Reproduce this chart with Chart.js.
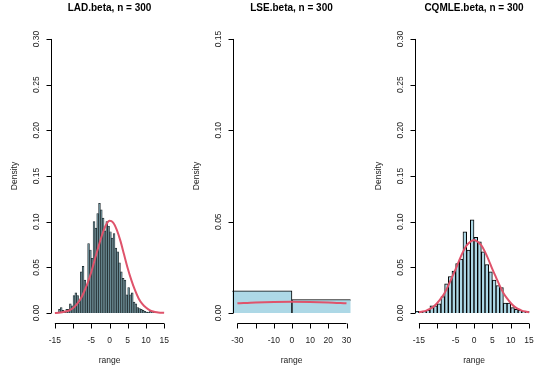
<!DOCTYPE html>
<html>
<head>
<meta charset="utf-8">
<script src="https://cdn.jsdelivr.net/npm/chart.js@4"></script>
<style>
  body { margin: 0; background: #fff; }
  #wrap { position: relative; width: 547px; height: 371px; overflow: hidden; }
  #wrap canvas { position: absolute; top: 0; }
</style>
</head>
<body>
<div id="wrap">
  <canvas id="lad" width="182" height="371" style="left:0px"></canvas>
  <canvas id="lse" width="182" height="371" style="left:182px"></canvas>
  <canvas id="cqmle" width="183" height="371" style="left:364px"></canvas>
</div>
<script>
// --- data ---
// LAD.beta histogram, bins of 0.5 starting at -14
const ladStart = -14, ladWidth = 0.5;
const ladDensity = [0.004, 0.006, 0.003, 0.002, 0.004, 0.004, 0.010, 0.008, 0.019, 0.022,
  0.019, 0.012, 0.045, 0.051, 0.036, 0.030, 0.076, 0.069, 0.060, 0.100,
  0.093, 0.109, 0.120, 0.113, 0.104, 0.090, 0.100, 0.095, 0.089, 0.082,
  0.087, 0.071, 0.067, 0.055, 0.045, 0.038, 0.036, 0.020, 0.028, 0.020,
  0.022, 0.012, 0.010, 0.006, 0.005, 0.004, 0.003, 0.002, 0.001, 0.001,
  0.002, 0.002, 0.001];
const ladCurveX = [-15, -14, -13, -12, -11, -10, -9, -8, -7, -6, -5, -4, -3, -2, -1, 0,
  1, 2, 3, 4, 5, 6, 7, 8, 9, 10, 11, 12, 13, 14, 15];
const ladCurveY = [0.0001, 0.0003, 0.0008, 0.0016, 0.003, 0.0055, 0.0095, 0.015, 0.023, 0.033,
  0.045, 0.059, 0.073, 0.086, 0.096, 0.101, 0.099, 0.091, 0.079, 0.064,
  0.049, 0.036, 0.025, 0.016, 0.010, 0.006, 0.0033, 0.0017, 0.0008, 0.0004, 0.0002];

// LSE.beta histogram, two bins of 50 starting at -50
const lseStart = -50, lseWidth = 50;
const lseDensity = [0.0122, 0.0074];
const lseCurveX = [-30, -20, -10, 0, 10, 20, 30];
const lseCurveY = [0.0053, 0.0058, 0.0061, 0.0062, 0.0061, 0.0058, 0.0053];

// CQMLE.beta histogram, bins of 1 starting at -16
const cqStart = -16, cqWidth = 1;
const cqDensity = [0.002, 0.001, 0.002, 0.003, 0.008, 0.008, 0.010, 0.018, 0.032, 0.040,
  0.046, 0.054, 0.059, 0.089, 0.069, 0.102, 0.083, 0.078, 0.067, 0.053,
  0.045, 0.036, 0.030, 0.028, 0.011, 0.011, 0.006, 0.004, 0.003, 0.002, 0.002];
const cqCurveX = ladCurveX;
const cqCurveY = [0.0009, 0.0016, 0.0027, 0.0045, 0.007, 0.011, 0.016, 0.022, 0.030, 0.039,
  0.048, 0.058, 0.067, 0.074, 0.078, 0.080, 0.078, 0.074, 0.067, 0.058,
  0.048, 0.039, 0.030, 0.022, 0.016, 0.011, 0.007, 0.0045, 0.0027, 0.0016, 0.0009];

// axis ticks
const xTicks15 = [-15, -10, -5, 0, 5, 10, 15];
const xLabels15 = ['-15', '', '-5', '0', '5', '10', '15'];
const xTicks30 = [-30, -20, -10, 0, 10, 20, 30];
const xLabels30 = ['-30', '', '-10', '0', '10', '20', '30'];
const yTicks30 = [0, 0.05, 0.10, 0.15, 0.20, 0.25, 0.30];
const yTicks15 = [0, 0.05, 0.10, 0.15];

const FONT = '"Liberation Sans", Arial, sans-serif';

// R style axes, drawn from the chart's own scales
const rAxes = {
  id: 'rAxes',
  afterDraw(chart, args, o) {
    const ctx = chart.ctx, a = chart.chartArea;
    const xs = chart.scales.x, ys = chart.scales.y;
    ctx.save();
    ctx.strokeStyle = '#000';
    ctx.lineWidth = 1;
    const x0 = Math.round(a.left) + 0.5;
    const y0 = Math.round(a.bottom) - 0.5;
    ctx.beginPath();
    ctx.moveTo(x0, ys.getPixelForValue(o.yTicks[0]));
    ctx.lineTo(x0, ys.getPixelForValue(o.yTicks[o.yTicks.length - 1]));
    o.yTicks.forEach(v => {
      const p = Math.round(ys.getPixelForValue(v)) + 0.5;
      ctx.moveTo(x0, p); ctx.lineTo(x0 - 5, p);
    });
    ctx.moveTo(xs.getPixelForValue(o.xTicks[0]), y0);
    ctx.lineTo(xs.getPixelForValue(o.xTicks[o.xTicks.length - 1]), y0);
    o.xTicks.forEach(v => {
      const p = Math.round(xs.getPixelForValue(v)) + 0.5;
      ctx.moveTo(p, y0); ctx.lineTo(p, y0 + 5);
    });
    ctx.stroke();

    ctx.fillStyle = '#222';
    ctx.font = '8.5px ' + FONT;
    ctx.textAlign = 'center';
    ctx.textBaseline = 'middle';
    o.xTicks.forEach((v, i) => {
      ctx.fillText(o.xLabels[i], xs.getPixelForValue(v), 341);
    });
    o.yTicks.forEach(v => {
      ctx.save();
      ctx.translate(36.5, ys.getPixelForValue(v));
      ctx.rotate(-Math.PI / 2);
      ctx.fillText(v.toFixed(2), 0, 0);
      ctx.restore();
    });
    const cx = (a.left + a.right) / 2, cy = (a.top + a.bottom) / 2;
    ctx.fillText('range', cx, 361);
    ctx.save();
    ctx.translate(14.5, cy);
    ctx.rotate(-Math.PI / 2);
    ctx.fillText('Density', 0, 0);
    ctx.restore();

    ctx.fillStyle = '#000';
    ctx.font = 'bold 10px ' + FONT;
    ctx.fillText(o.title, cx, 8);
    ctx.restore();
  }
};

function makePanel(id, p) {
  const bars = p.density.map((d, i) => ({ x: p.start + (i + 0.5) * p.width, y: d }));
  const curve = p.curveX.map((x, i) => ({ x: x, y: p.curveY[i] }));
  return new Chart(document.getElementById(id), {
    type: 'bar',
    data: {
      datasets: [
        {
          type: 'bar', data: bars, order: 2,
          backgroundColor: p.fill || '#ADD8E6', borderColor: p.edge || '#000', borderWidth: p.bw,
          barPercentage: 1, categoryPercentage: 1, grouped: false
        },
        {
          type: 'line', data: curve, order: 1,
          borderColor: '#DF536B', borderWidth: 2, pointRadius: 0,
          cubicInterpolationMode: 'monotone', fill: false
        }
      ]
    },
    options: {
      responsive: false, animation: false, devicePixelRatio: 1,
      layout: { padding: { left: 50.5, right: 13.5, top: 28, bottom: 47 } },
      plugins: {
        legend: { display: false }, tooltip: { enabled: false },
        rAxes: { title: p.title, xTicks: p.xTicks, xLabels: p.xLabels, yTicks: p.yTicks }
      },
      scales: {
        // no hidden ticks on x, so bar width comes from the bin spacing only
        x: { type: 'linear', min: p.xMin, max: p.xMax, offset: false, display: false,
             afterBuildTicks: s => { s.ticks = []; } },
        y: { min: p.yMin, max: p.yMax, display: false }
      }
    },
    plugins: [rAxes]
  });
}

makePanel('lad', {
  title: 'LAD.beta, n = 300', start: ladStart, width: ladWidth, density: ladDensity,
  curveX: ladCurveX, curveY: ladCurveY, bw: 0.7, fill: '#6a8c96', edge: '#1a2427',
  xMin: -16.2, xMax: 16.2, yMin: -0.012, yMax: 0.312,
  xTicks: xTicks15, xLabels: xLabels15, yTicks: yTicks30
});
makePanel('lse', {
  title: 'LSE.beta, n = 300', start: lseStart, width: lseWidth, density: lseDensity,
  curveX: lseCurveX, curveY: lseCurveY, bw: 1,
  xMin: -32.7, xMax: 32.2, yMin: -0.006, yMax: 0.156,
  xTicks: xTicks30, xLabels: xLabels30, yTicks: yTicks15
});
makePanel('cqmle', {
  title: 'CQMLE.beta, n = 300', start: cqStart, width: cqWidth, density: cqDensity,
  curveX: cqCurveX, curveY: cqCurveY, bw: 1,
  xMin: -16.2, xMax: 16.2, yMin: -0.012, yMax: 0.312,
  xTicks: xTicks15, xLabels: xLabels15, yTicks: yTicks30
});
</script>
</body>
</html>
